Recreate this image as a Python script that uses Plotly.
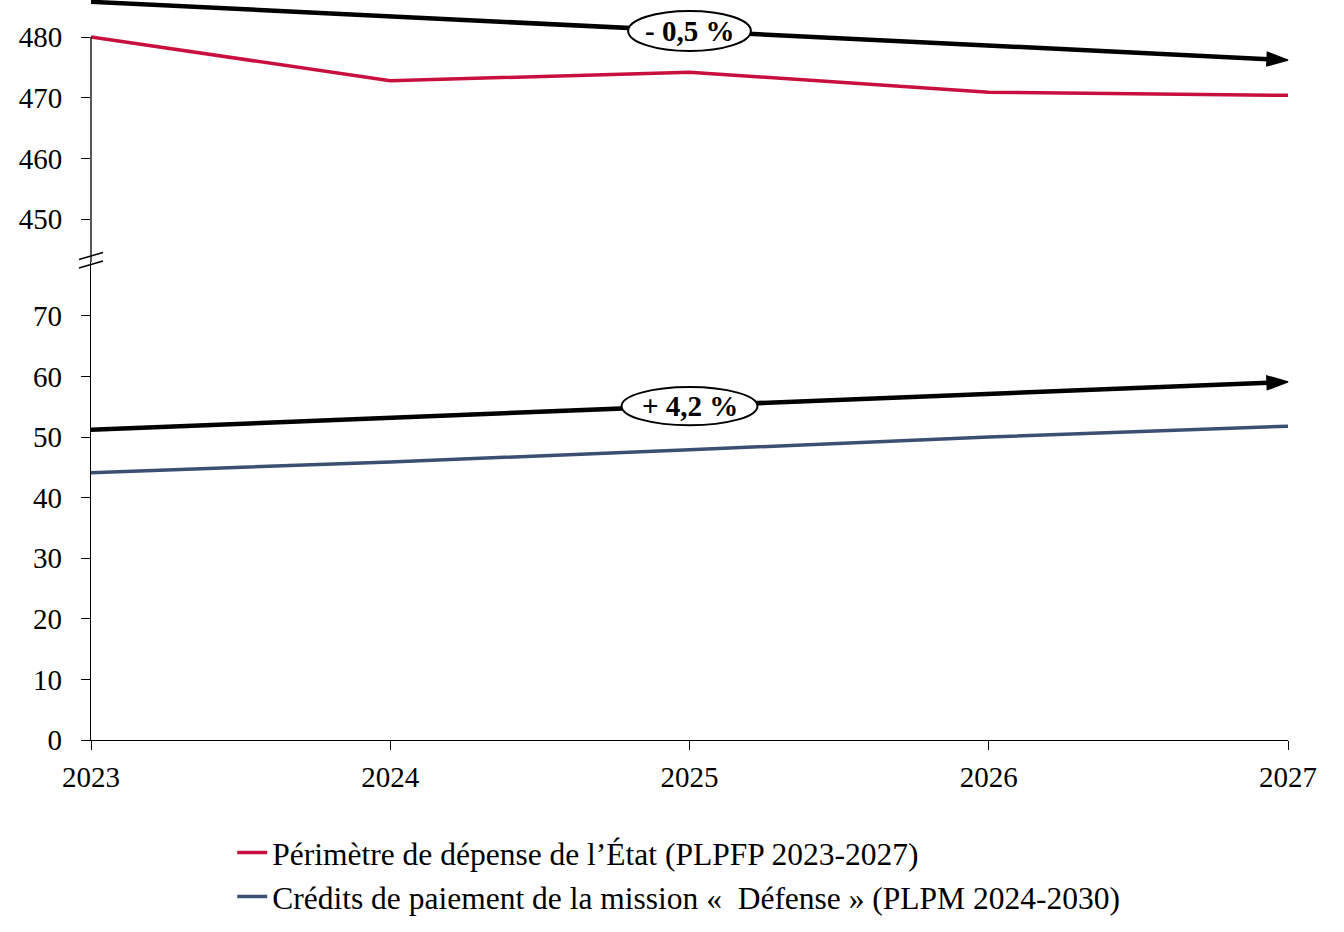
import plotly.graph_objects as go

years = [2023, 2024, 2025, 2026, 2027]
etat = [480.0, 472.8, 474.2, 470.9, 470.4]
defense = [44.1, 45.9, 47.9, 50.0, 51.8]
trend_etat = [485.8, 483.4, 481.0, 478.6, 476.2]
trend_def = [51.2, 53.2, 55.1, 57.1, 59.1]
label_etat = "- 0,5 %"
label_def = "+ 4,2 %"
name_etat = "Périmètre de dépense de l\u2019État (PLPFP 2023-2027)"
name_def = "Crédits de paiement de la mission «  Défense » (PLPM 2024-2030)"
low_ticks = [0, 10, 20, 30, 40, 50, 60, 70]
up_ticks = [450, 460, 470, 480]

FONT = "Liberation Serif"
RED = "#C8103E"
BLUE = "#3B4F71"

low_dom = [0, 0.646]
up_dom = [0.646, 1.0]
low_rng = [0, 78.9]
up_rng = [442.95, 486.1]

fig = go.Figure()
for ys, ax in [(trend_etat, "y2"), (trend_def, "y")]:
    fig.add_trace(go.Scatter(x=years, y=ys, yaxis=ax, mode="lines+markers",
                             line=dict(color="black", width=4.5), showlegend=False,
                             marker=dict(symbol="arrow", angleref="previous",
                                         size=[0, 0, 0, 0, 22], opacity=1,
                                         color="black", line=dict(width=1.5, color="black")),
                             cliponaxis=False, hoverinfo="skip"))
fig.add_trace(go.Scatter(x=years, y=etat, yaxis="y2", mode="lines", name=name_etat,
                         line=dict(color=RED, width=3.5), legendgroup="a"))
fig.add_trace(go.Scatter(x=years, y=defense, yaxis="y", mode="lines", name=name_def,
                         line=dict(color=BLUE, width=3.5), legendgroup="b"))

def yp(v, dom, rng):
    return dom[0] + (v - rng[0]) / (rng[1] - rng[0]) * (dom[1] - dom[0])

shapes = []
for yref, cy, hw, hh in [("y2", trend_etat[2], 0.205, 3.3), ("y", trend_def[2], 0.227, 3.15)]:
    shapes.append(dict(type="circle", xref="x", yref=yref, x0=years[2] - hw, x1=years[2] + hw,
                       y0=cy - hh, y1=cy + hh, fillcolor="white",
                       line=dict(color="black", width=2), layer="above"))
shapes.append(dict(type="line", xref="paper", yref="paper", x0=0, x1=0,
                   y0=up_dom[0], y1=yp(480, up_dom, up_rng), line=dict(color="black", width=1.3)))
for off in [0, 8.5]:
    shapes.append(dict(type="line", xref="paper", yref="paper",
                       x0=-12 / 1197, x1=12 / 1197,
                       y0=up_dom[0] - (6 - off) / 740, y1=up_dom[0] + (1 + off) / 740,
                       line=dict(color="black", width=1.5)))

annotations = [
    dict(x=years[2], y=trend_etat[2], yref="y2", text="<b>" + label_etat + "</b>", showarrow=False,
         font=dict(family=FONT, size=29, color="black")),
    dict(x=years[2], y=trend_def[2], yref="y", text="<b>" + label_def + "</b>", showarrow=False,
         font=dict(family=FONT, size=29, color="black")),
]

tick_common = dict(ticks="outside", ticklen=9, tickcolor="black", tickwidth=1.3,
                   tickfont=dict(family=FONT, size=29), showgrid=False, zeroline=False)

fig.update_layout(
    width=1344, height=932,
    margin=dict(l=91, r=56, t=0, b=192),
    paper_bgcolor="white", plot_bgcolor="white",
    font=dict(family=FONT, size=29, color="black"),
    xaxis=dict(range=[2023, 2027], tickvals=years,
               showline=True, linecolor="black", linewidth=1.3,
               ticklabelstandoff=2, **tick_common),
    yaxis=dict(domain=low_dom, range=low_rng, tickvals=low_ticks,
               showline=True, linecolor="black", linewidth=1.3,
               ticklabelstandoff=13, **tick_common),
    yaxis2=dict(domain=up_dom, range=up_rng, tickvals=up_ticks,
                showline=False, anchor="x", ticklabelstandoff=13, **tick_common),
    shapes=shapes,
    annotations=annotations,
    showlegend=True,
    legend=dict(x=0.118, y=-0.1155, xanchor="left", yanchor="top", tracegroupgap=0,
                font=dict(family=FONT, size=31.5), bgcolor="rgba(0,0,0,0)", itemwidth=30),
)

fig.write_html("out.html", config={"displayModeBar": False},
               post_script="document.body.style.margin='0';")
